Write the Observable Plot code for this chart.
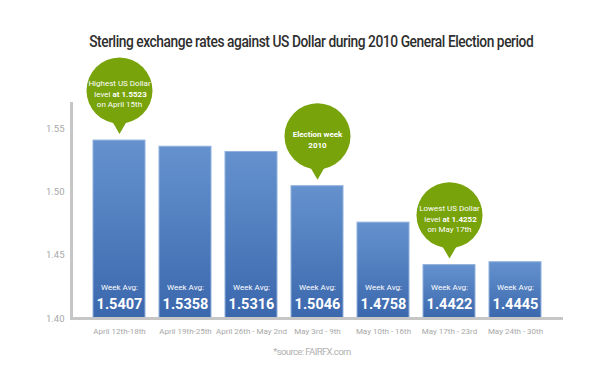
<!DOCTYPE html>
<html>
<head>
<meta charset="utf-8">
<script src="https://cdn.jsdelivr.net/npm/d3@7"></script>
<script src="https://cdn.jsdelivr.net/npm/@observablehq/plot@0.6"></script>
<style>
  html, body { margin: 0; padding: 0; background: #ffffff; }
  #wrap { width: 613px; height: 371px; position: relative; overflow: hidden; }
  #title { height: 50px; box-sizing: border-box; padding-top: 33px; padding-left: 10px; line-height: 18px; text-align: center;
           font-family: Roboto, sans-serif; font-size: 16px; font-weight: 500; color: #2e2e2e; white-space: nowrap; }
  #title span { display: inline-block; transform: scaleX(0.86); transform-origin: 50% 50%; letter-spacing: -0.5px; }
  #caption { height: 14px; line-height: 14px; text-align: center; padding-left: 11px;
             font-family: Roboto, sans-serif; font-size: 9.5px; color: #b0b0b0; letter-spacing: -0.6px; }
  svg { display: block; overflow: visible; }
</style>
</head>
<body>
<div id="wrap">
  <div id="title"><span>Sterling exchange rates against US Dollar during 2010 General Election period</span></div>
  <div id="chart"></div>
  <div id="caption">*source: FAIRFX.com</div>
</div>
<script>
const weeks = ["April 12th-18th", "April 19th-25th", "April 26th - May 2nd", "May 3rd - 9th",
               "May 10th - 16th", "May 17th - 23rd", "May 24th - 30th"];
const weekAvg = [1.5407, 1.5358, 1.5316, 1.5046, 1.4758, 1.4422, 1.4445];
const yTicks = [1.40, 1.45, 1.50, 1.55];
const yMax = 1.57;

const calloutWeek = [weeks[0], weeks[5]];
const calloutLine1 = ["Highest US Dollar", "Lowest US Dollar"];
const calloutLine2a = ["level", "level"];
const calloutLine2b = ["at 1.5523", "at 1.4252"];
const calloutLine3 = ["on April 15th", "on May 17th"];
const electionWeek = [weeks[3]];
const electionLines = ["Election week", "2010"];

const baseline = yTicks[0];
const green = "#78a30a";

const data = weeks.map((w, i) => ({week: w, value: weekAvg[i], label: weekAvg[i].toFixed(4)}));
const callouts = calloutWeek.map((w, i) => ({
  week: w, value: weekAvg[weeks.indexOf(w)],
  l1: calloutLine1[i], l2a: calloutLine2a[i], l2b: calloutLine2b[i], l3: calloutLine3[i]
}));
const election = electionWeek.map(w => ({week: w, value: weekAvg[weeks.indexOf(w)], l1: electionLines[0], l2: electionLines[1]}));
const pins = [...callouts, ...election];

const txt = {fill: "white", fontSize: 8, fontFamily: "Roboto", letterSpacing: "-0.6px"};

const svg = Plot.plot({
  width: 613, height: 295,
  marginTop: 53, marginBottom: 27, marginLeft: 71, marginRight: 50,
  style: {fontFamily: "Roboto", overflow: "visible"},
  x: {domain: weeks, paddingInner: 0.21, paddingOuter: 0.28, label: null},
  y: {domain: [baseline, yMax], label: null},
  marks: [
    Plot.axisY({ticks: yTicks, tickFormat: d => d.toFixed(2), tickSize: 0, tickPadding: 7,
                fill: "#a8a8a8", fontSize: 9.5, letterSpacing: "-0.7px", label: null}),
    Plot.axisX({tickSize: 0, tickPadding: 10, fill: "#a8a8a8", fontSize: 8, letterSpacing: "-0.4px", label: null}),
    Plot.barY(data, {x: "week", y1: () => baseline, y2: "value", fill: "url(#barGrad)", stroke: "#8fb0dc", strokeWidth: 1}),
    Plot.ruleY([baseline], {stroke: "#c6c6c6", strokeWidth: 3}),
    Plot.frame({anchor: "left", stroke: "#c6c6c6", strokeWidth: 3}),
    Plot.text(data, {x: "week", y: () => baseline, text: () => "Week Avg:", dy: -31, ...txt}),
    Plot.text(data, {x: "week", y: () => baseline, text: "label", dy: -14, fill: "white", fontSize: 14.5,
                     fontWeight: "bold", fontFamily: "Roboto", letterSpacing: "-0.9px"}),
    // callout pins
    Plot.dot(pins, {x: "week", y: "value", dy: -50, r: 33, fill: green}),
    Plot.dot(pins, {x: "week", y: "value", dy: -19, r: 8, symbol: "triangle", rotate: 180, fill: green}),
    Plot.text(callouts, {x: "week", y: "value", text: "l1", dy: -57, ...txt}),
    Plot.text(callouts, {x: "week", y: "value", text: "l2a", dy: -46, dx: -9, textAnchor: "end", ...txt}),
    Plot.text(callouts, {x: "week", y: "value", text: "l2b", dy: -46, dx: -7, textAnchor: "start", ...txt, fontWeight: "bold"}),
    Plot.text(callouts, {x: "week", y: "value", text: "l3", dy: -36, ...txt}),
    Plot.text(election, {x: "week", y: "value", text: "l1", dy: -52, ...txt, fontWeight: "bold"}),
    Plot.text(election, {x: "week", y: "value", text: "l2", dy: -41, ...txt, fontWeight: "bold"})
  ]
});

const defs = d3.select(svg).insert("defs", ":first-child");
const grad = defs.append("linearGradient").attr("id", "barGrad")
  .attr("x1", 0).attr("y1", 0).attr("x2", 0).attr("y2", 1);
grad.append("stop").attr("offset", "0%").attr("stop-color", "#6592ce");
grad.append("stop").attr("offset", "100%").attr("stop-color", "#3b68ad");

document.getElementById("chart").appendChild(svg);
</script>
</body>
</html>
